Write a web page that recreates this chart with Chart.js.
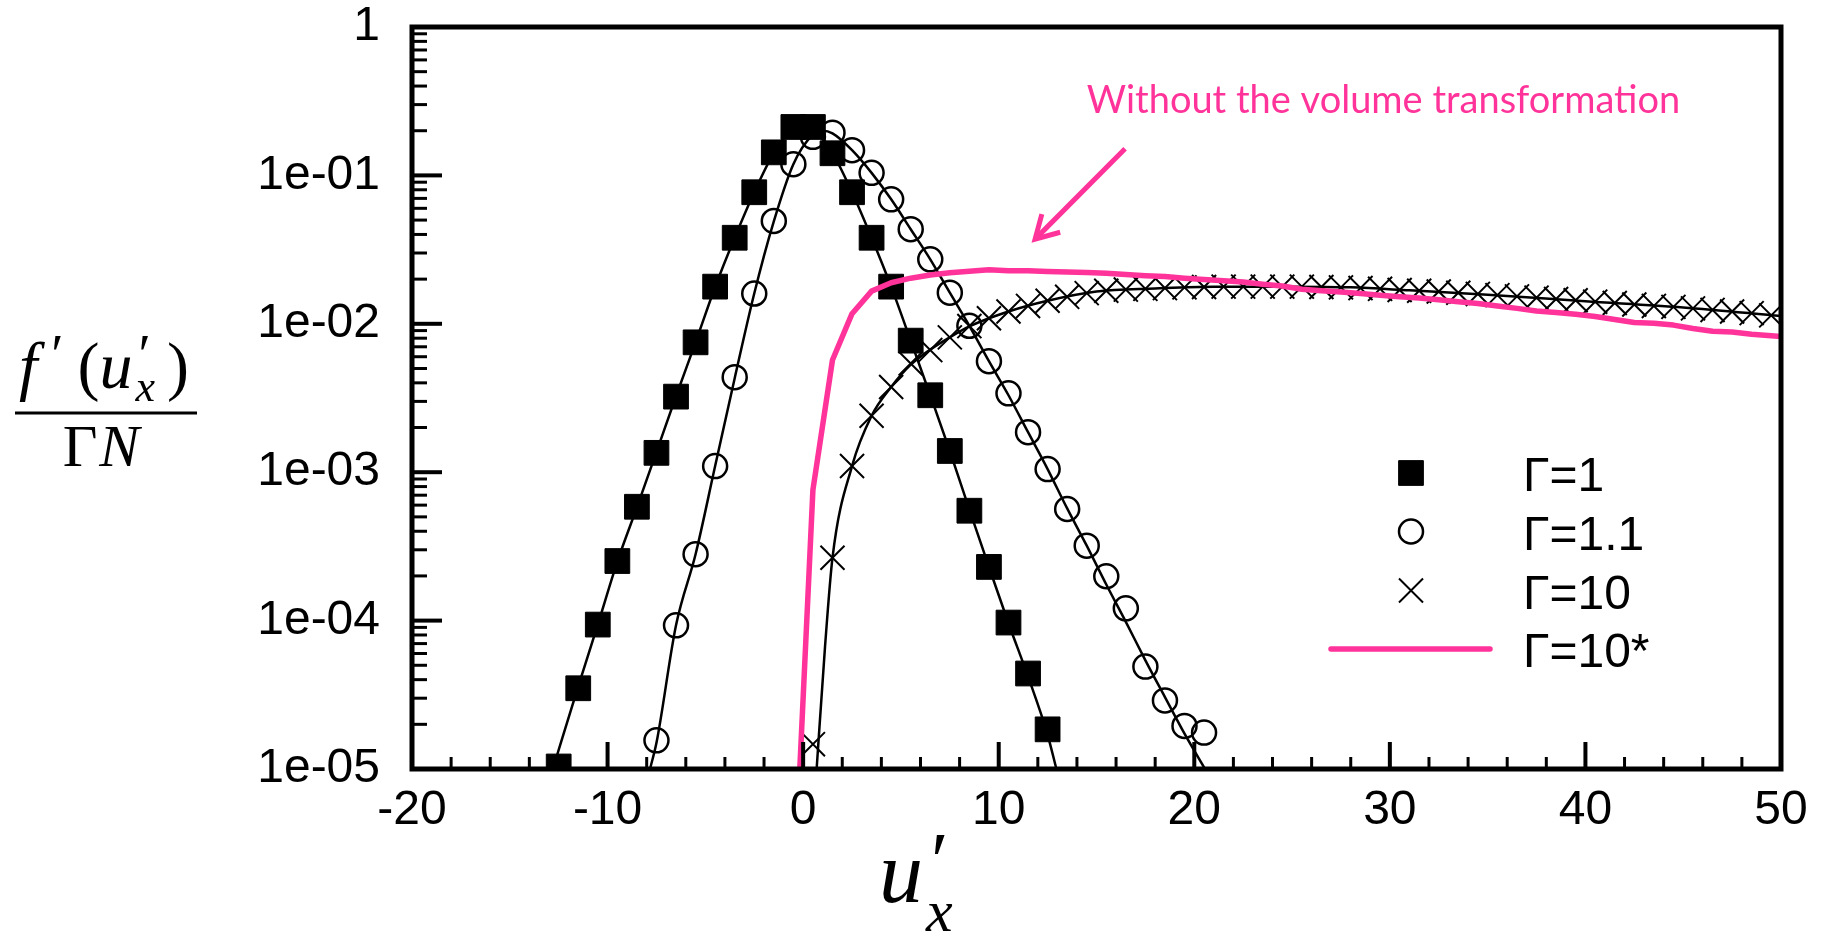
<!DOCTYPE html>
<html>
<head>
<meta charset="utf-8">
<script src="https://cdn.jsdelivr.net/npm/chart.js@4.4.1/dist/chart.umd.min.js"></script>
<style>
  html, body { margin: 0; padding: 0; background: #fff; }
</style>
</head>
<body>
<canvas id="plot" width="1825" height="938"></canvas>
<script>
"use strict";

// Γ=1 (filled squares)
const g1U = [-12.5, -11.5, -10.5, -9.5, -8.5, -7.5, -6.5, -5.5, -4.5, -3.5, -2.5, -1.5, -0.5,
             0.5, 1.5, 2.5, 3.5, 4.5, 5.5, 6.5, 7.5, 8.5, 9.5, 10.5, 11.5, 12.5];
const g1V = [1.04e-5, 3.5e-5, 9.4e-5, 2.52e-4, 5.85e-4, 1.35e-3, 3.23e-3, 7.5e-3, 0.0178, 0.038, 0.077, 0.143, 0.212,
             0.212, 0.141, 0.077, 0.038, 0.0178, 7.7e-3, 3.3e-3, 1.39e-3, 5.5e-4, 2.3e-4, 9.7e-5, 4.4e-5, 1.85e-5];

// Γ=1.1 (open circles)
const g11U = [-7.5, -6.5, -5.5, -4.5, -3.5, -2.5, -1.5, -0.5, 0.5, 1.5, 2.5, 3.5, 4.5, 5.5, 6.5,
              7.5, 8.5, 9.5, 10.5, 11.5, 12.5, 13.5, 14.5, 15.5, 16.5, 17.5, 18.5, 19.5, 20.5];
const g11V = [1.56e-5, 9.3e-5, 2.8e-4, 1.1e-3, 4.37e-3, 0.016, 0.0493, 0.119, 0.182, 0.194, 0.148, 0.104, 0.069, 0.0434, 0.0272,
              0.0162, 9.7e-3, 5.6e-3, 3.4e-3, 1.86e-3, 1.05e-3, 5.65e-4, 3.2e-4, 1.99e-4, 1.21e-4, 4.9e-5, 2.9e-5, 1.95e-5, 1.76e-5];

// Γ=10 (crosses)
const g10U = [0.5, 1.5, 2.5, 3.5, 4.5, 5.5, 6.5, 7.5, 8.5, 9.5, 10.5, 11.5, 12.5, 13.5, 14.5, 15.5, 16.5,
              17.5, 18.5, 19.5, 20.5, 21.5, 22.5, 23.5, 24.5, 25.5, 26.5, 27.5, 28.5, 29.5, 30.5, 31.5, 32.5,
              33.5, 34.5, 35.5, 36.5, 37.5, 38.5, 39.5, 40.5, 41.5, 42.5, 43.5, 44.5, 45.5, 46.5, 47.5, 48.5, 49.5];
const g10V = [1.47e-5, 2.65e-4, 1.1e-3, 2.4e-3, 3.75e-3, 5.4e-3, 6.65e-3, 8.1e-3, 9.65e-3, 0.0109, 0.0121, 0.0132, 0.0143, 0.0152, 0.0161, 0.0167, 0.0170,
              0.0172, 0.0174, 0.0176, 0.0177, 0.0178, 0.0178, 0.0178, 0.0178, 0.0178, 0.0177, 0.0176, 0.0174, 0.0172, 0.0169, 0.0167, 0.0165,
              0.0162, 0.0159, 0.0156, 0.0153, 0.0150, 0.0147, 0.0144, 0.0141, 0.0138, 0.0135, 0.0132, 0.0130, 0.0127, 0.0124, 0.0121, 0.0118, 0.0114];

// Γ=10* (without the volume transformation, pink line)
const g10sU = [-0.5, 0.5, 1.5, 2.5, 3.5, 4.5, 5.5, 6.5, 7.5, 8.5, 9.5, 10.5, 11.5, 12.5, 13.5, 14.5, 15.5, 16.5,
               17.5, 18.5, 19.5, 20.5, 21.5, 22.5, 23.5, 24.5, 25.5, 26.5, 27.5, 28.5, 29.5, 30.5, 31.5, 32.5, 33.5,
               34.5, 35.5, 36.5, 37.5, 38.5, 39.5, 40.5, 41.5, 42.5, 43.5, 44.5, 45.5, 46.5, 47.5, 48.5, 49.5, 50];
const g10sV = [1.2e-6, 7.6e-4, 5.7e-3, 0.0117, 0.0166, 0.0189, 0.0203, 0.0213, 0.0221, 0.0226, 0.0231, 0.0228, 0.0228, 0.0225, 0.0223, 0.0222, 0.0219, 0.0215,
               0.0211, 0.0208, 0.0203, 0.0199, 0.0195, 0.0191, 0.0185, 0.0180, 0.0171, 0.0167, 0.0164, 0.0160, 0.0156, 0.0152, 0.0149, 0.0145, 0.0141,
               0.0137, 0.0132, 0.0127, 0.0122, 0.0119, 0.0116, 0.0112, 0.0107, 0.0102, 0.0101, 0.0098, 0.0093, 0.0089, 0.0088, 0.0085, 0.0083, 0.0082];

// theory curves (black lines)
const line1U = [-12.8, -11.5, -10.5, -9.5, -8.5, -7.5, -6.5, -5.5, -4.5, -3.5, -2.5, -1.5, -0.5, 0,
                0.5, 1.5, 2.5, 3.5, 4.5, 5.5, 6.5, 7.5, 8.5, 9.5, 10.5, 11.5, 12.5, 12.95];
const line1V = [1.0e-5, 3.6e-5, 9.4e-5, 2.5e-4, 5.8e-4, 1.37e-3, 3.25e-3, 7.5e-3, 0.0177, 0.038, 0.077, 0.142, 0.212, 0.235,
                0.212, 0.142, 0.077, 0.038, 0.0178, 7.7e-3, 3.3e-3, 1.39e-3, 5.6e-4, 2.3e-4, 9.6e-5, 4.2e-5, 1.7e-5, 1.0e-5];
const line11U = [-7.83, -7.5, -6.5, -5.5, -4.5, -3.5, -2.5, -1.5, -0.5, 0.5, 1.0, 1.5, 2.5, 3.5, 4.5, 5.5,
                 6.5, 7.5, 8.5, 9.5, 10.5, 11.5, 12.5, 13.5, 14.5, 15.5, 16.5, 17.5, 18.5, 19.5, 20.55];
const line11V = [1.0e-5, 1.5e-5, 9.3e-5, 2.8e-4, 1.1e-3, 4.3e-3, 0.016, 0.049, 0.119, 0.188, 0.2, 0.192, 0.148, 0.104, 0.069, 0.0434,
                 0.0272, 0.0162, 9.7e-3, 5.6e-3, 3.3e-3, 1.86e-3, 1.05e-3, 5.7e-4, 3.2e-4, 1.75e-4, 9.8e-5, 5.4e-5, 3.05e-5, 1.73e-5, 1.0e-5];
const line10U = [0.69, 1.12, 1.5, 2.5, 3.5, 4.5, 5.5, 6.5, 7.5, 8.5, 10.5, 12.5, 15, 18, 21, 25, 28, 31, 35, 40, 45, 50];
const line10V = [1.0e-5, 6.7e-5, 2.65e-4, 1.1e-3, 2.4e-3, 3.75e-3, 5.3e-3, 6.7e-3, 8.1e-3, 9.6e-3, 0.0121, 0.0143, 0.0165,
                 0.0173, 0.0178, 0.0178, 0.0176, 0.0168, 0.0157, 0.0142, 0.0129, 0.0113];

// axes
const xTicks = [-20, -10, 0, 10, 20, 30, 40, 50];
const yTicks = [1e-5, 1e-4, 1e-3, 1e-2, 1e-1, 1];
const legendLabels = ['Γ=1', 'Γ=1.1', 'Γ=10', 'Γ=10*'];
const noteText = 'Without the volume transformation';

const PINK = '#ff3399';

function toXY(us, vs) {
    return us.map((u, i) => ({ x: u, y: vs[i] }));
}

function yLabel(v) {
    if (v === 1) return '1';
    const e = Math.round(Math.log10(v));
    return '1e-' + String(-e).padStart(2, '0');
}

// box with inward ticks
const frame = {
    id: 'frame',
    afterDatasetsDraw(chart) {
        const { ctx, chartArea: a, scales: { x, y } } = chart;
        ctx.save();
        ctx.strokeStyle = '#000';
        for (let v = -20; v <= 50; v += 2) {
            const px = x.getPixelForValue(v);
            const major = v % 10 === 0;
            ctx.lineWidth = major ? 4 : 3;
            ctx.beginPath();
            ctx.moveTo(px, a.bottom);
            ctx.lineTo(px, a.bottom - (major ? 27 : 12));
            ctx.stroke();
        }
        for (let e = -5; e <= 0; e++) {
            for (let m = 1; m <= 9; m++) {
                const v = m * Math.pow(10, e);
                if (v > 1.0001) break;
                const py = y.getPixelForValue(v);
                const major = m === 1;
                ctx.lineWidth = major ? 4 : 3;
                ctx.beginPath();
                ctx.moveTo(a.left, py);
                ctx.lineTo(a.left + (major ? 30 : 15), py);
                ctx.stroke();
            }
        }
        ctx.lineWidth = 5;
        ctx.strokeRect(a.left, a.top, a.right - a.left, a.bottom - a.top);
        ctx.restore();
    }
};

function drawPieces(ctx, pieces, x, y) {
    let cx = x;
    for (const p of pieces) {
        ctx.font = p.font;
        ctx.fillText(p.t, cx + (p.dx || 0), y + (p.dy || 0));
        if (!p.hold) cx += ctx.measureText(p.t).width + (p.gap || 0);
    }
    return cx - x;
}

function piecesWidth(ctx, pieces) {
    let w = 0;
    for (const p of pieces) {
        ctx.font = p.font;
        if (!p.hold) w += ctx.measureText(p.t).width + (p.gap || 0);
    }
    return w;
}

// axis titles, legend and note
const extras = {
    id: 'extras',
    afterDraw(chart) {
        const { ctx, scales: { x, y } } = chart;
        const ds = chart.data.datasets;
        ctx.save();
        ctx.fillStyle = '#000';
        ctx.textAlign = 'left';
        ctx.textBaseline = 'alphabetic';

        // y title as a fraction
        const num = [
            { t: 'f', font: 'italic 66px "Liberation Serif"', gap: 14 },
            { t: '′', font: '56px "Liberation Serif"', dy: -14, gap: 14 },
            { t: '(', font: '66px "Liberation Serif"' },
            { t: 'u', font: 'italic 66px "Liberation Serif"', gap: 3 },
            { t: '′', font: '56px "Liberation Serif"', dx: 3, dy: -14, hold: true },
            { t: 'x', font: 'italic 44px "Liberation Serif"', dy: 13, gap: 12 },
            { t: ')', font: '66px "Liberation Serif"' }
        ];
        const nw = piecesWidth(ctx, num);
        drawPieces(ctx, num, 104 - nw / 2, 388);
        ctx.fillRect(15, 411.5, 182, 3);
        const den = [
            { t: 'Γ', font: '60px "Liberation Serif"', gap: 2 },
            { t: 'N', font: 'italic 60px "Liberation Serif"' }
        ];
        const dw = piecesWidth(ctx, den);
        drawPieces(ctx, den, 101 - dw / 2, 466);

        // x title
        const xt = [
            { t: 'u', font: 'italic 88px "Liberation Serif"' },
            { t: '′', font: '80px "Liberation Serif"', dx: 8, dy: -14, hold: true },
            { t: 'x', font: 'italic 60px "Liberation Serif"', dx: 3, dy: 29 }
        ];
        drawPieces(ctx, xt, 879, 902);

        // legend
        const lx = 1411, rows = [473, 531.5, 590.5, 649];
        const markers = [ds[1], ds[2], ds[3]];
        markers.forEach((d, i) => {
            ctx.fillStyle = d.pointBackgroundColor;
            ctx.strokeStyle = d.pointBorderColor;
            ctx.lineWidth = d.pointBorderWidth;
            Chart.helpers.drawPoint(ctx, { pointStyle: d.pointStyle, radius: d.pointRadius, rotation: 0, borderWidth: d.pointBorderWidth }, lx, rows[i]);
        });
        ctx.strokeStyle = PINK;
        ctx.lineWidth = 5.5;
        ctx.lineCap = 'round';
        ctx.beginPath();
        ctx.moveTo(1331, rows[3]);
        ctx.lineTo(1490, rows[3]);
        ctx.stroke();
        ctx.fillStyle = '#000';
        ctx.font = '48px "Liberation Sans"';
        legendLabels.forEach((t, i) => ctx.fillText(t, 1523, rows[i] + 18));

        // note with arrow
        ctx.fillStyle = PINK;
        ctx.font = '38px Lato';
        ctx.fillText(noteText, x.getPixelForValue(14.5), y.getPixelForValue(0.263));
        const x0 = x.getPixelForValue(16.46), y0 = y.getPixelForValue(0.151);
        const x1 = x.getPixelForValue(11.86), y1 = y.getPixelForValue(0.0372);
        const ang = Math.atan2(y0 - y1, x0 - x1);
        ctx.strokeStyle = PINK;
        ctx.lineWidth = 5;
        ctx.lineCap = 'butt';
        ctx.lineJoin = 'miter';
        ctx.beginPath();
        ctx.moveTo(x0, y0);
        ctx.lineTo(x1, y1);
        ctx.stroke();
        ctx.beginPath();
        ctx.moveTo(x1 + 26 * Math.cos(ang - 0.52), y1 + 26 * Math.sin(ang - 0.52));
        ctx.lineTo(x1, y1);
        ctx.lineTo(x1 + 26 * Math.cos(ang + 0.52), y1 + 26 * Math.sin(ang + 0.52));
        ctx.stroke();
        ctx.restore();
    }
};

const theoryLine = {
    showLine: true,
    pointRadius: 0,
    borderColor: '#000',
    borderWidth: 2.5,
    cubicInterpolationMode: 'monotone',
    clip: 0
};

const ctx = document.getElementById('plot');

const chart = new Chart(ctx, {
    type: 'scatter',
    data: {
        datasets: [
            {
                label: legendLabels[3],
                data: toXY(g10sU, g10sV),
                showLine: true,
                pointRadius: 0,
                borderColor: PINK,
                borderWidth: 5.5,
                borderJoinStyle: 'round',
                tension: 0,
                clip: 0
            },
            {
                label: legendLabels[0],
                data: toXY(g1U, g1V),
                pointStyle: 'rect',
                pointRadius: 17.5,
                pointBackgroundColor: '#000',
                pointBorderColor: '#000',
                pointBorderWidth: 1,
                clip: 0
            },
            {
                label: legendLabels[1],
                data: toXY(g11U, g11V),
                pointStyle: 'circle',
                pointRadius: 12,
                pointBackgroundColor: 'rgba(0,0,0,0)',
                pointBorderColor: '#000',
                pointBorderWidth: 2.5,
                clip: 0
            },
            {
                label: legendLabels[2],
                data: toXY(g10U, g10V),
                pointStyle: 'crossRot',
                pointRadius: 17,
                pointBackgroundColor: 'rgba(0,0,0,0)',
                pointBorderColor: '#000',
                pointBorderWidth: 2,
                clip: 0
            },
            { ...theoryLine, data: toXY(line1U, line1V) },
            { ...theoryLine, data: toXY(line11U, line11V) },
            { ...theoryLine, data: toXY(line10U, line10V) }
        ]
    },
    options: {
        responsive: false,
        animation: false,
        events: [],
        layout: { padding: { left: 0, top: 27, right: 44, bottom: 0 } },
        plugins: {
            legend: { display: false },
            tooltip: { enabled: false }
        },
        scales: {
            x: {
                type: 'linear',
                min: -20,
                max: 50,
                grid: { display: false, drawTicks: false, tickLength: 0 },
                border: { display: false },
                afterBuildTicks(s) { s.ticks = xTicks.map(v => ({ value: v })); },
                afterFit(s) { s.height = 169; s.paddingLeft = 0; s.paddingRight = 0; },
                ticks: {
                    autoSkip: false,
                    maxRotation: 0,
                    padding: 13,
                    color: '#000',
                    font: { family: 'Liberation Sans', size: 48 },
                    callback: v => String(v)
                }
            },
            y: {
                type: 'logarithmic',
                min: 1e-5,
                max: 1,
                grid: { display: false, drawTicks: false, tickLength: 0 },
                border: { display: false },
                afterBuildTicks(s) { s.ticks = yTicks.map(v => ({ value: v })); },
                afterFit(s) { s.width = 412; s.paddingTop = 0; s.paddingBottom = 0; },
                ticks: {
                    autoSkip: false,
                    padding: 32,
                    color: '#000',
                    font: { family: 'Liberation Sans', size: 48 },
                    callback: v => yLabel(v)
                }
            }
        }
    },
    plugins: [frame, extras]
});
</script>
</body>
</html>
